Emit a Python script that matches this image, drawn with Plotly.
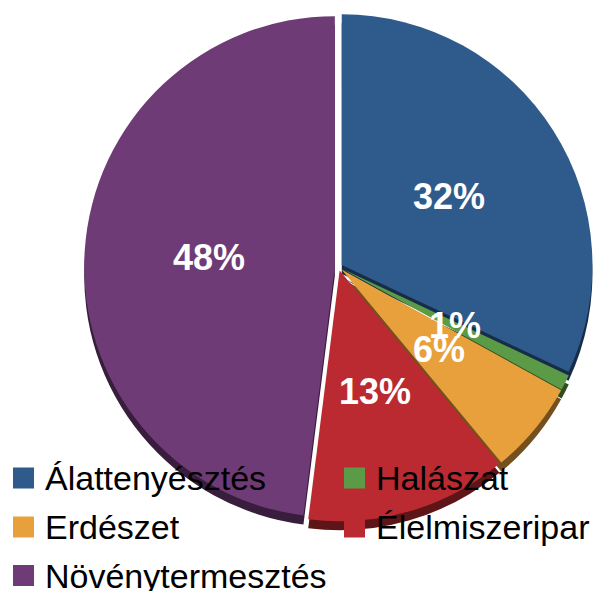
import math
import plotly.graph_objects as go

# ---- data ----
categories = ["Álattenyésztés", "Halászat", "Erdészet", "Élelmiszeripar", "Növénytermesztés"]
values = [32, 1, 6, 13, 48]

# ---- styles ----
colors = ["#2E5A8C", "#5B9A47", "#E8A03C", "#BA2A30", "#6E3B76"]
side_colors = ["#172D47", "#2E4D24", "#74501E", "#5E1518", "#381E3C"]
FONT = "Liberation Sans, Arial, sans-serif"

W, H = 593, 591
PULL = 0.015
DEPTH = 9
dom_x = [0.142, 1.0]
cy_top = 267
half = 257
dom_y = [(H - cy_top - half) / H, (H - cy_top + half) / H]
shadow_y = [dom_y[0] - DEPTH / H, dom_y[1] - DEPTH / H]

fig = go.Figure()
# extruded "side" of the 3D pie
fig.add_trace(go.Pie(
    labels=categories, values=values, sort=False, direction="clockwise",
    rotation=0, pull=PULL, textinfo="none", showlegend=False, hoverinfo="skip",
    marker=dict(colors=side_colors, line=dict(width=0)),
    domain=dict(x=dom_x, y=shadow_y),
))
# top surface
fig.add_trace(go.Pie(
    labels=categories, values=values, sort=False, direction="clockwise",
    rotation=0, pull=PULL, textinfo="none", showlegend=False,
    hoverinfo="label+percent",
    marker=dict(colors=colors, line=dict(width=0)),
    domain=dict(x=dom_x, y=dom_y),
))

# percentage labels placed at slice mid-angles (computed from data)
r = min(W * (dom_x[1] - dom_x[0]), H * (dom_y[1] - dom_y[0])) / (2 * (1 + PULL))
cx = W * (dom_x[0] + dom_x[1]) / 2
cy = H * (1 - (dom_y[0] + dom_y[1]) / 2)
total = sum(values)
annotations = []
cum = 0
for v in values:
    mid = (cum + v / 2) / total * 2 * math.pi
    cum += v
    L = 0.52 * r
    px = cx + L * math.sin(mid)
    py = cy - L * math.cos(mid)
    annotations.append(dict(
        x=px / W, y=1 - py / H, xref="paper", yref="paper",
        text=f"{round(v / total * 100)}%", showarrow=False,
        xanchor="center", yanchor="middle", yshift=1,
        font=dict(family=FONT, size=36, color="white", weight="bold"),
    ))

# legend (two columns, row-major)
shapes = []
col_x = [13, 344]
row_y = [478, 527, 575.5]
sw = 21
for i, (name, col) in enumerate(zip(categories, colors)):
    cxl = col_x[i % 2]
    ryl = row_y[i // 2]
    shapes.append(dict(
        type="rect", xref="paper", yref="paper",
        x0=cxl / W, x1=(cxl + sw) / W,
        y0=1 - (ryl + sw / 2) / H, y1=1 - (ryl - sw / 2) / H,
        fillcolor=col, line=dict(width=0), layer="above",
    ))
    annotations.append(dict(
        x=(cxl + sw + 9) / W, y=1 - ryl / H, xref="paper", yref="paper",
        text=name, showarrow=False, xanchor="left", yanchor="middle",
        font=dict(family=FONT, size=34, color="black"),
    ))

fig.update_layout(
    width=W, height=H, autosize=False,
    margin=dict(l=0, r=0, t=0, b=0),
    paper_bgcolor="white", plot_bgcolor="white",
    showlegend=False,
    annotations=annotations, shapes=shapes,
)

fig.write_html(
    "out.html",
    config={"displayModeBar": False},
    post_script="document.body.style.margin='0px';document.body.style.overflow='hidden';",
)
